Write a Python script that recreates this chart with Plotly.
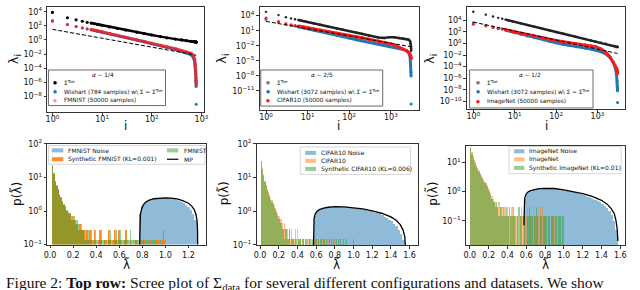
import plotly.graph_objects as go

W, H = 640, 290
FONT = "DejaVu Sans"


def px(x):
    return x / W


def py(y):
    return 1 - y / H


# ---------------- Top row: scree plots ----------------
fm_idx = [1, 2, 3, 4, 5, 6, 7, 8, 9, 10, 14, 20, 30, 50, 70, 100, 150, 200, 300, 400,
          500, 600, 650, 700, 730, 750, 765, 775, 780, 784]
fm_toe = [7.9e3, 1.4e3, 7.1e2, 4.5e2, 3.2e2, 2.5e2, 2.0e2, 1.66e2, 1.41e2, 1.2e2,
          71, 45, 25, 12.6, 7.9, 5.0, 3.0, 2.0, 1.32, 1.0,
          0.79, 0.66, 0.6, 0.56, 0.54, 0.52, 0.51, 0.5, 0.5, 0.49]
fm_wish = [5.6e2, 1.6e2, 79, 50, 35, 28, 22, 18.6, 15.8, 13.2,
           7.9, 4.2, 2.2, 0.95, 0.56, 0.28, 0.16, 0.089, 0.045, 0.025,
           0.016, 8.9e-3, 5.6e-3, 2.5e-3, 7.9e-4, 1.6e-4, 1.6e-5, 1.6e-6, 2.5e-7, 7.9e-10]
fm_data = [4.0e2, 1.6e2, 83, 55, 40, 32, 25, 21, 17.8, 14.8,
           8.9, 4.8, 2.5, 1.05, 0.63, 0.33, 0.18, 0.11, 0.056, 0.033,
           0.022, 0.014, 0.01, 5e-3, 1.6e-3, 4e-4, 5e-5, 5e-6, 1e-6, 4e-7]
fm_fit_i = [1, 784]
fm_fit = [32, 7.1e-3]

big_idx = [1, 2, 3, 4, 5, 6, 7, 8, 9, 10, 14, 20, 30, 50, 70, 100, 150, 200, 300,
           500, 700, 900, 1200, 1600, 2000, 2400, 2700, 2900, 3000, 3040, 3060, 3072]
cf_toe = [5.6e4, 1.26e4, 5.0e3, 2.8e3, 1.9e3, 1.32e3, 1.0e3, 7.9e2, 6.3e2, 5.4e2,
          2.8e2, 1.5e2, 71, 28, 15.8, 8.3, 4.0, 2.4, 1.12,
          0.45, 0.35, 0.52, 0.5, 0.35, 0.28, 0.22, 0.16, 0.079, 0.025, 7.9e-3, 2.5e-3, 1e-3]
cf_wish = [2.0e3, 5.6e2, 2.2e2, 1.26e2, 89, 63, 48, 38, 30, 25,
           14, 7.9, 4.0, 1.4, 0.71, 0.35, 0.16, 0.1, 0.05,
           0.022, 0.0126, 8.5e-3, 5e-3, 2.8e-3, 1.8e-3, 1e-3, 4e-4, 6.3e-5, 1e-6, 6.3e-8, 1e-8, 2.5e-14]
cf_data = [3.2e3, 7.1e2, 2.5e2, 1.6e2, 1.12e2, 89, 71, 58, 48, 40,
           24, 13.2, 7.1, 3.2, 1.8, 1.12, 0.63, 0.4, 0.2,
           0.089, 0.05, 0.032, 0.016, 5e-3, 2.2e-3, 1e-3, 5e-4, 2.2e-4, 1e-4, 5e-5, 3.5e-5, 2.5e-5]
cf_fit_i = [1, 3072]
cf_fit = [7.1e2, 6.3e-3]

in_toe = [3.2e5, 1e5, 4.7e4, 2.8e4, 1.9e4, 1.4e4, 1.05e4, 8.3e3, 6.8e3, 5.6e3,
          3.2e3, 1.7e3, 8.3e2, 3.4e2, 1.9e2, 1.0e2, 50, 30, 15,
          6.3, 3.5, 2.2, 1.4, 0.89, 0.56, 0.4, 0.32, 0.28, 0.26, 0.25, 0.25, 0.245]
in_wish = [4.0e3, 1.4e3, 7.1e2, 4.5e2, 3.2e2, 2.2e2, 1.66e2, 1.26e2, 95, 76,
           40, 21, 10.5, 4.5, 2.5, 1.4, 0.76, 0.5, 0.28,
           0.16, 0.11, 0.079, 0.04, 0.016, 4e-3, 6.3e-4, 6.3e-5, 5e-6, 3.2e-7, 3.2e-8, 6.3e-9, 6.3e-11]
in_data = [2.1e3, 1.12e3, 6.0e2, 4.2e2, 3.2e2, 2.4e2, 1.9e2, 1.5e2, 1.2e2, 1.0e2,
           56, 32, 16.6, 8.9, 5.6, 3.5, 2.1, 1.5, 1.0,
           0.63, 0.42, 0.28, 0.126, 0.032, 5e-3, 6.3e-4, 1.6e-4, 5e-5, 2.5e-5, 1.6e-5, 1e-5, 6.3e-6]
in_fit_i = [1, 3072]
in_fit = [5.2e3, 0.019]

# ---------------- Bottom row: spectral densities ----------------
hist_width = 0.0125
hist_n = 80
fm_real = [0, 24, 13, 8, 6, 4.2, 3.2, 2.4, 2.0, 1.6, 1.3, 1.1, 0.95, 0.8, 0.7, 0.55, 0.7, 0.42, 0.55, 0.42,
           0.28, 0.42, 0.28, 0.14, 0.28, 0.14, 0.28, 0.14, 0.28, 0, 0.14, 0.28, 0.14, 0, 0.14, 0.28, 0.14, 0.14, 0, 0.14,
           0.14, 0.28, 0.14, 0, 0.14, 0.28, 0.14, 0.14, 0.28, 0, 0.14, 0.14, 0.14, 0, 0.14, 0.28, 0.14, 0, 0.14, 0.14,
           0, 0.14, 0, 0.14, 0.14, 0, 0.14, 0, 0.14, 0, 0.14, 0, 0.14, 0, 0.14, 0, 0.14, 0, 0.28, 0]
fm_syn = [0, 22, 14, 7.5, 5.5, 4.5, 3.0, 2.6, 1.9, 1.5, 1.4, 1.0, 0.8, 0.9, 0.55, 0.7, 0.55, 0.55, 0.42, 0.28,
          0.42, 0.28, 0.28, 0.28, 0.14, 0.28, 0.14, 0.28, 0.14, 0.14, 0.28, 0.14, 0, 0.14, 0.28, 0.14, 0, 0.14, 0.14, 0,
          0.28, 0.14, 0, 0.14, 0.28, 0.14, 0, 0.28, 0.14, 0.14, 0, 0.14, 0.28, 0.14, 0, 0.14, 0, 0.14, 0, 0.14,
          0.14, 0, 0.14, 0, 0.14, 0.14, 0, 0.14, 0, 0.14, 0, 0.14, 0, 0.14, 0, 0.14, 0, 0.14, 0, 0.14]
cf_real = [29, 20, 12.5, 7.5, 6, 4.5, 3.7, 3.1, 2.5, 2.1, 1.8, 1.5, 1.3, 1.1, 0.9, 0.75, 0.6, 0.6, 0.45, 0.3,
           0.45, 0.3, 0.3, 0.15, 0.3, 0.15, 0.3, 0.15, 0.15, 0.3, 0, 0.3, 0.15, 0.15, 0, 0.15, 0.15, 0, 0.15, 0,
           0.15, 0.15, 0, 0.15, 0, 0.15, 0, 0.15, 0, 0.15, 0, 0, 0.15, 0, 0.15, 0, 0, 0.15, 0, 0,
           0.15, 0, 0, 0.15, 0, 0, 0, 0.15, 0, 0, 0, 0, 0.15, 0, 0, 0, 0, 0, 0, 0]
cf_syn = [31, 18, 11, 8, 5.5, 4.2, 3.4, 2.8, 2.2, 1.9, 1.6, 1.3, 1.1, 0.9, 0.75, 0.6, 0.45, 0.45, 0.3, 0.3,
          0.15, 0.3, 0.15, 0.15, 0.3, 0, 0.15, 0.15, 0, 0.15, 0.15, 0, 0.15, 0.15, 0, 0.15, 0.15, 0, 0.15, 0.15,
          0, 0.15, 0.15, 0, 0.15, 0, 0.15, 0.15, 0, 0.15, 0, 0.15, 0, 0.15, 0.15, 0, 0.15, 0, 0.15, 0,
          0.15, 0, 0.15, 0, 0.15, 0, 0.15, 0, 0.15, 0, 0.15, 0, 0, 0.15, 0, 0, 0, 0, 0, 0.15]
in_real = [34, 23, 17, 13, 10.5, 8.5, 6.5, 5.5, 4.5, 3.8, 3.2, 2.7, 2.3, 2.0, 1.7, 1.4, 1.2, 0.95, 0.75, 0.6,
           0.45, 0.45, 0.3, 0.3, 0.45, 0.3, 0.15, 0.3, 0.15, 0.3, 0.15, 0.3, 0.15, 0, 0.15, 0.3, 0.15, 0.15, 0, 0.15,
           0.15, 0, 0.15, 0.3, 0.15, 0, 0.15, 0.15, 0.3, 0, 0.15, 0.15, 0, 0.3, 0.15, 0, 0.15, 0, 0.15, 0.3,
           0, 0.3, 0, 0.15, 0, 0.15, 0, 0.15, 0, 0.15, 0, 0.15, 0, 0, 0.15, 0, 0, 0.15, 0, 0]
in_syn = [32, 21, 15, 12, 9.5, 7.5, 6, 5, 4, 3.4, 2.8, 2.4, 2.0, 1.7, 1.5, 1.2, 1.0, 0.8, 0.6, 0.45,
          0.45, 0.3, 0.45, 0.3, 0.15, 0.3, 0.3, 0.15, 0.3, 0.15, 0.3, 0.15, 0.15, 0.3, 0.15, 0.15, 0.3, 0.15, 0.15, 0,
          0.15, 0.3, 0.15, 0.15, 0, 0.15, 0.15, 0, 0.15, 0.15, 0.3, 0.15, 0.15, 0, 0.15, 0.15, 0.3, 0.15, 0, 0.15,
          0.15, 0, 0.15, 0.15, 0.15, 0, 0.15, 0.15, 0, 0.15, 0.15, 0, 0.15, 0.15, 0, 0.15, 0.15, 0, 0.15, 0.15]

fm_noise_start, fm_noise_w = 0.775, 0.02
fm_noise = [0.8, 1.45, 1.75, 2.0, 2.15, 2.3, 2.4, 2.45, 2.5, 2.5, 2.5, 2.5, 2.45, 2.4, 2.35, 2.25,
            2.15, 2.0, 1.85, 1.7, 1.5, 1.3, 1.1, 0.85, 0.55]
cf_noise_start, cf_noise_w = 0.57, 0.025
cf_noise = [0.75, 1.0, 1.12, 1.2, 1.26, 1.3, 1.33, 1.35, 1.36, 1.36, 1.36, 1.35, 1.34, 1.33, 1.31, 1.29,
            1.27, 1.25, 1.22, 1.19, 1.16, 1.13, 1.09, 1.05, 1.01, 0.97, 0.92, 0.87, 0.82, 0.76, 0.7, 0.64,
            0.57, 0.5, 0.43, 0.36, 0.28, 0.21, 0.14, 0.07]
in_noise_start, in_noise_w = 0.575, 0.025
in_noise = [0.6, 0.95, 1.08, 1.15, 1.2, 1.24, 1.27, 1.28, 1.29, 1.29, 1.29, 1.28, 1.27, 1.25, 1.23, 1.2,
            1.17, 1.13, 1.09, 1.05, 1.01, 0.97, 0.93, 0.89, 0.85, 0.8, 0.75, 0.7, 0.65, 0.6, 0.55, 0.5,
            0.45, 0.4, 0.34, 0.28, 0.22, 0.16, 0.1, 0.05]

fm_mp_x = [0.775, 0.777, 0.783, 0.795, 0.81, 0.83, 0.86, 0.9, 0.95, 1.0, 1.05, 1.1, 1.15, 1.2, 1.23,
           1.25, 1.265, 1.275, 1.279, 1.28]
fm_mp_y = [0.05, 0.4, 0.8, 1.2, 1.55, 1.85, 2.1, 2.32, 2.45, 2.47, 2.42, 2.3, 2.05, 1.7, 1.38,
           1.1, 0.8, 0.5, 0.25, 0.05]
cf_mp_x = [0.57, 0.572, 0.578, 0.59, 0.61, 0.64, 0.68, 0.73, 0.8, 0.9, 1.0, 1.1, 1.2, 1.3, 1.4,
           1.46, 1.5, 1.53, 1.55, 1.56, 1.565]
cf_mp_y = [0.05, 0.35, 0.6, 0.82, 1.0, 1.13, 1.24, 1.31, 1.36, 1.35, 1.28, 1.17, 1.02, 0.87, 0.68,
           0.53, 0.4, 0.28, 0.17, 0.09, 0.03]
in_mp_x = [0.575, 0.577, 0.583, 0.595, 0.615, 0.645, 0.685, 0.735, 0.8, 0.9, 1.0, 1.1, 1.2, 1.3, 1.4,
           1.46, 1.5, 1.535, 1.555, 1.568, 1.575]
in_mp_y = [0.07, 0.3, 0.55, 0.78, 0.95, 1.08, 1.18, 1.25, 1.29, 1.27, 1.15, 1.0, 0.85, 0.68, 0.5,
           0.37, 0.27, 0.18, 0.1, 0.05, 0.02]

# tick definitions
top_xtick_exp = [0, 1, 2, 3]
p1_ytick_exp = [-8, -6, -4, -2, 0, 2, 4]
p2_ytick_exp = [-11, -8, -5, -2, 1, 4]
p3_ytick_exp = [-10, -8, -6, -4, -2, 0, 2, 4]
p45_ytick_exp = [-1, 0, 1, 2]
p6_ytick_exp = [-1, 0, 1]
p4_xticks = [0.0, 0.2, 0.4, 0.6, 0.8, 1.0, 1.2]
p56_xticks = [0.0, 0.2, 0.4, 0.6, 0.8, 1.0, 1.2, 1.4, 1.6]

# colours
C_BLUE = "#1f77b4"
C_RED = "#ff1a1a"
C_NOISE = "rgba(31,119,180,0.5)"
C_GREEN = "rgba(44,160,44,0.5)"
C_ORANGE_STRONG = "rgba(255,127,14,0.9)"
C_ORANGE = "rgba(255,127,14,0.5)"


def pow_label(e):
    return "10<sup>" + ("\u2212" if e < 0 else "") + str(abs(e)) + "</sup>"


fig = go.Figure()

# panel geometry (pixels): x-box, y-box, x-range, y-range(log10)
panels = {
    1: dict(xb=(44, 203), yb=(1.5, 110), xr=(-0.1, 3.06), yr=(-10.19, 4.61)),
    2: dict(xb=(259, 420), yb=(1.5, 108), xr=(-0.15, 3.67), yr=(-14.77, 5.63)),
    3: dict(xb=(469, 629), yb=(1.5, 107), xr=(-0.15, 3.67), yr=(-11.33, 6.25)),
    4: dict(xb=(44, 205), yb=(143.3, 248), xr=(-0.023, 1.356), yr=(-1, 2)),
    5: dict(xb=(256, 419), yb=(143.3, 248.3), xr=(-0.035, 1.688), yr=(-1, 2)),
    6: dict(xb=(468, 629), yb=(145, 248.3), xr=(-0.039, 1.652), yr=(-1.83, 1.58)),
}

axis_style = dict(showline=True, linecolor="#333", linewidth=0.8, mirror=True,
                  ticks="outside", ticklen=3, tickwidth=0.8, tickcolor="#333",
                  showgrid=False, zeroline=False,
                  tickfont=dict(family=FONT, size=8, color="#111"))

layout_axes = {}
for k, p in panels.items():
    sx = "" if k == 1 else str(k)
    xa = dict(axis_style, domain=[px(p["xb"][0]), px(p["xb"][1])], anchor="y" + sx)
    ya = dict(axis_style, domain=[py(p["yb"][1]), py(p["yb"][0])], anchor="x" + sx,
              type="log", range=list(p["yr"]))
    if k <= 3:
        xa.update(type="log", range=list(p["xr"]), tickmode="array",
                  tickvals=[10 ** e for e in top_xtick_exp],
                  ticktext=[pow_label(e) for e in top_xtick_exp],
                  ticklabelstandoff=-3)
        ye = {1: p1_ytick_exp, 2: p2_ytick_exp, 3: p3_ytick_exp}[k]
    else:
        xt = p4_xticks if k == 4 else p56_xticks
        xa.update(range=list(p["xr"]), tickmode="array", tickvals=xt,
                  ticktext=["%.1f" % v for v in xt])
        ye = p45_ytick_exp if k in (4, 5) else p6_ytick_exp
    ya.update(tickmode="array", tickvals=[10 ** e for e in ye], ticktext=[pow_label(e) for e in ye])
    layout_axes["xaxis" + sx] = xa
    layout_axes["yaxis" + sx] = ya


def ax(k):
    s = "" if k == 1 else str(k)
    return dict(xaxis="x" + s, yaxis="y" + s)


# ---- scree panels ----
def scree(k, idx, toe, wish, data, fit_i, fit, toe_col, toe_size, red_col):
    dense = [j for j, i in enumerate(idx) if i >= 6]
    fig.add_trace(go.Scatter(x=[idx[j] for j in dense], y=[toe[j] for j in dense], mode="lines",
                             line=dict(color=toe_col, width=2.4), **ax(k)))
    fig.add_trace(go.Scatter(x=idx, y=toe, mode="markers",
                             marker=dict(color=toe_col, size=toe_size), **ax(k)))
    dw = dense[:-1]
    fig.add_trace(go.Scatter(x=[idx[j] for j in dw], y=[wish[j] for j in dw], mode="lines",
                             line=dict(color=C_BLUE, width=3), **ax(k)))
    fig.add_trace(go.Scatter(x=idx, y=wish, mode="markers",
                             marker=dict(color=C_BLUE, size=3), **ax(k)))
    fig.add_trace(go.Scatter(x=[idx[j] for j in dense], y=[data[j] for j in dense], mode="lines",
                             line=dict(color=red_col, width=3), **ax(k)))
    fig.add_trace(go.Scatter(x=idx, y=data, mode="markers",
                             marker=dict(color=red_col, size=3), **ax(k)))
    fig.add_trace(go.Scatter(x=fit_i, y=fit, mode="lines",
                             line=dict(color="black", width=1, dash="4px,2px"), **ax(k)))


scree(1, fm_idx, fm_toe, fm_wish, fm_data, fm_fit_i, fm_fit, "black", 3.2, "rgba(255,30,30,0.75)")
scree(2, big_idx, cf_toe, cf_wish, cf_data, cf_fit_i, cf_fit, "#222", 2.4, C_RED)
scree(3, big_idx, in_toe, in_wish, in_data, in_fit_i, in_fit, "#222", 2.4, C_RED)


# ---- density panels ----
def bars(k, centers, heights, width, color):
    xs = [c for c, h in zip(centers, heights) if h > 0]
    ys = [h for h in heights if h > 0]
    fig.add_trace(go.Bar(x=xs, y=ys, width=width, marker=dict(color=color, line=dict(width=0)), **ax(k)))


hist_centers = [hist_width * (j + 1) for j in range(hist_n)]


def noise_centers(start, w, vals):
    return [start + w * (j + 0.5) for j in range(len(vals))]


bars(4, noise_centers(fm_noise_start, fm_noise_w, fm_noise), fm_noise, fm_noise_w, C_NOISE)
bars(4, hist_centers, fm_syn, hist_width, C_ORANGE_STRONG)
bars(4, hist_centers, fm_real, hist_width, C_GREEN)
fig.add_trace(go.Scatter(x=fm_mp_x, y=fm_mp_y, mode="lines", line=dict(color="black", width=1.3), **ax(4)))

bars(5, noise_centers(cf_noise_start, cf_noise_w, cf_noise), cf_noise, cf_noise_w, C_NOISE)
bars(5, hist_centers, cf_real, hist_width, C_ORANGE)
bars(5, hist_centers, cf_syn, hist_width, C_GREEN)
fig.add_trace(go.Scatter(x=cf_mp_x, y=cf_mp_y, mode="lines", line=dict(color="black", width=1.3), **ax(5)))

bars(6, noise_centers(in_noise_start, in_noise_w, in_noise), in_noise, in_noise_w, C_NOISE)
bars(6, hist_centers, in_real, hist_width, C_ORANGE)
bars(6, hist_centers, in_syn, hist_width, C_GREEN)
fig.add_trace(go.Scatter(x=in_mp_x, y=in_mp_y, mode="lines", line=dict(color="black", width=1.3), **ax(6)))

# ---- annotations / legends ----
annotations = []
shapes = []


def text(x, y, s, size=6, color="#111", anchor="left", family=FONT, angle=0):
    annotations.append(dict(x=px(x), y=py(y), xref="paper", yref="paper", text=s, showarrow=False,
                            xanchor=anchor, yanchor="middle", textangle=angle,
                            font=dict(family=family, size=size, color=color)))


def box(x0, y0, x1, y1, line, fill="rgba(255,255,255,0.85)", width=0.8):
    shapes.append(dict(type="rect", xref="paper", yref="paper", x0=px(x0), x1=px(x1),
                       y0=py(y1), y1=py(y0), line=dict(color=line, width=width),
                       fillcolor=fill, layer="above"))


def hline(x0, x1, y, color, width):
    shapes.append(dict(type="line", xref="paper", yref="paper", x0=px(x0), x1=px(x1),
                       y0=py(y), y1=py(y), line=dict(color=color, width=width), layer="above"))


# axis titles
for xc, yc in [(11.5, 55), (221.5, 55), (432.5, 55)]:
    text(xc, yc, "λ<sub>i</sub>", size=13, anchor="center", angle=-90)
for xc in [123, 339, 549]:
    text(xc, 125, "i", size=12, anchor="center")
for xc in [12.5, 222.5, 433.5]:
    text(xc, 195, "p(λ\u0303)", size=12, anchor="center", angle=-90)
for xc in [124, 337, 548]:
    text(xc, 268.5, "λ\u0303", size=12, anchor="center")

# top legends
top_legends = [
    dict(box=(45, 66.5, 163.5, 103.5), title_x=100, mx=51.5, tx=58.5, rows=(79, 89, 98.5),
         title="<i>α</i> ∼ 1/4", toe="black",
         labels=("Σ<sup>Toe</sup>", "Wishart (784 samples) w\\ Σ = Σ<sup>Toe</sup>", "FMNIST (50000 samples)"),
         red="rgba(255,60,60,0.55)"),
    dict(box=(260, 66.5, 383.5, 104), title_x=322, mx=267.5, tx=274, rows=(79, 89.3, 98.7),
         title="<i>α</i> ∼ 2/5", toe="#777",
         labels=("Σ<sup>Toe</sup>", "Wishart (3072 samples) w\\ Σ = Σ<sup>Toe</sup>", "CIFAR10 (50000 samples)"),
         red=C_RED),
    dict(box=(471.5, 66.5, 596.5, 106), title_x=533, mx=479.5, tx=487, rows=(80, 89.3, 99),
         title="<i>α</i> ∼ 1/2", toe="#777",
         labels=("Σ<sup>Toe</sup>", "Wishart (3072 samples) w\\ Σ = Σ<sup>Toe</sup>", "ImageNet (50000 samples)"),
         red=C_RED),
]
for L in top_legends:
    box(*L["box"], line="#444")
    text(L["title_x"], 71.5, L["title"], size=5.8, anchor="center")
    for yy, lab, col in zip(L["rows"], L["labels"], (L["toe"], C_BLUE, L["red"])):
        text(L["mx"], yy, "●", size=4.5, color=col, anchor="center")
        text(L["tx"], yy, lab, size=5.8)

# bottom legends
box(45, 145, 203.5, 164.5, line="#cccccc")
shapes.append(dict(type="rect", xref="paper", yref="paper", x0=px(48.5), x1=px(60), y0=py(152.2), y1=py(148),
                   fillcolor=C_NOISE, line=dict(width=0), layer="above"))
shapes.append(dict(type="rect", xref="paper", yref="paper", x0=px(48.5), x1=px(60), y0=py(161.4), y1=py(157.2),
                   fillcolor=C_ORANGE_STRONG, line=dict(width=0), layer="above"))
shapes.append(dict(type="rect", xref="paper", yref="paper", x0=px(165), x1=px(176.5), y0=py(152.2), y1=py(148),
                   fillcolor=C_GREEN, line=dict(width=0), layer="above"))
hline(165, 176.5, 159.3, "black", 1.2)
text(63, 150.1, "FMNIST Noise", size=6)
text(63, 159.3, "Synthetic FMNIST (KL=0.001)", size=6)
text(180, 150.1, "FMNIST", size=6)
text(180, 159.3, "MP", size=6)

for (bx0, by0, bx1, by1), (p0, p1), tx, rows, labs in [
    ((300, 146.5, 411.5, 175), (305, 316), 318.5, (152.7, 160.9, 169.3),
     ("CIFAR10 Noise", "CIFAR10", "Synthetic CIFAR10 (KL=0.006)")),
    ((511.5, 146, 625, 174.3), (516.5, 527), 530, (151, 159.4, 168.3),
     ("ImageNet Noise", "ImageNet", "Synthetic ImageNet (KL=0.01)")),
]:
    box(bx0, by0, bx1, by1, line="#cccccc")
    for yy, lab, col in zip(rows, labs, (C_NOISE, C_ORANGE, C_GREEN)):
        shapes.append(dict(type="rect", xref="paper", yref="paper", x0=px(p0), x1=px(p1),
                           y0=py(yy + 2.1), y1=py(yy - 2.1), fillcolor=col, line=dict(width=0), layer="above"))
        text(tx, yy, lab, size=6)

# caption (cut off at the bottom of the image)
annotations.append(dict(x=0, y=py(276), xref="paper", yref="paper", xanchor="left", yanchor="top",
                        showarrow=False,
                        text="Figure 2: <b>Top row:</b> Scree plot of Σ<sub>data</sub> for several different "
                             "configurations and datasets. We show",
                        font=dict(family="Liberation Serif", size=15.5, color="#111")))

fig.update_layout(width=W, height=H, margin=dict(l=0, r=0, t=0, b=0),
                  paper_bgcolor="white", plot_bgcolor="white", showlegend=False,
                  barmode="overlay", bargap=0, annotations=annotations, shapes=shapes,
                  **layout_axes)

fig.write_html("out.html", config={"displayModeBar": False},
               post_script="document.body.style.margin='0';document.body.style.overflow='hidden';")
